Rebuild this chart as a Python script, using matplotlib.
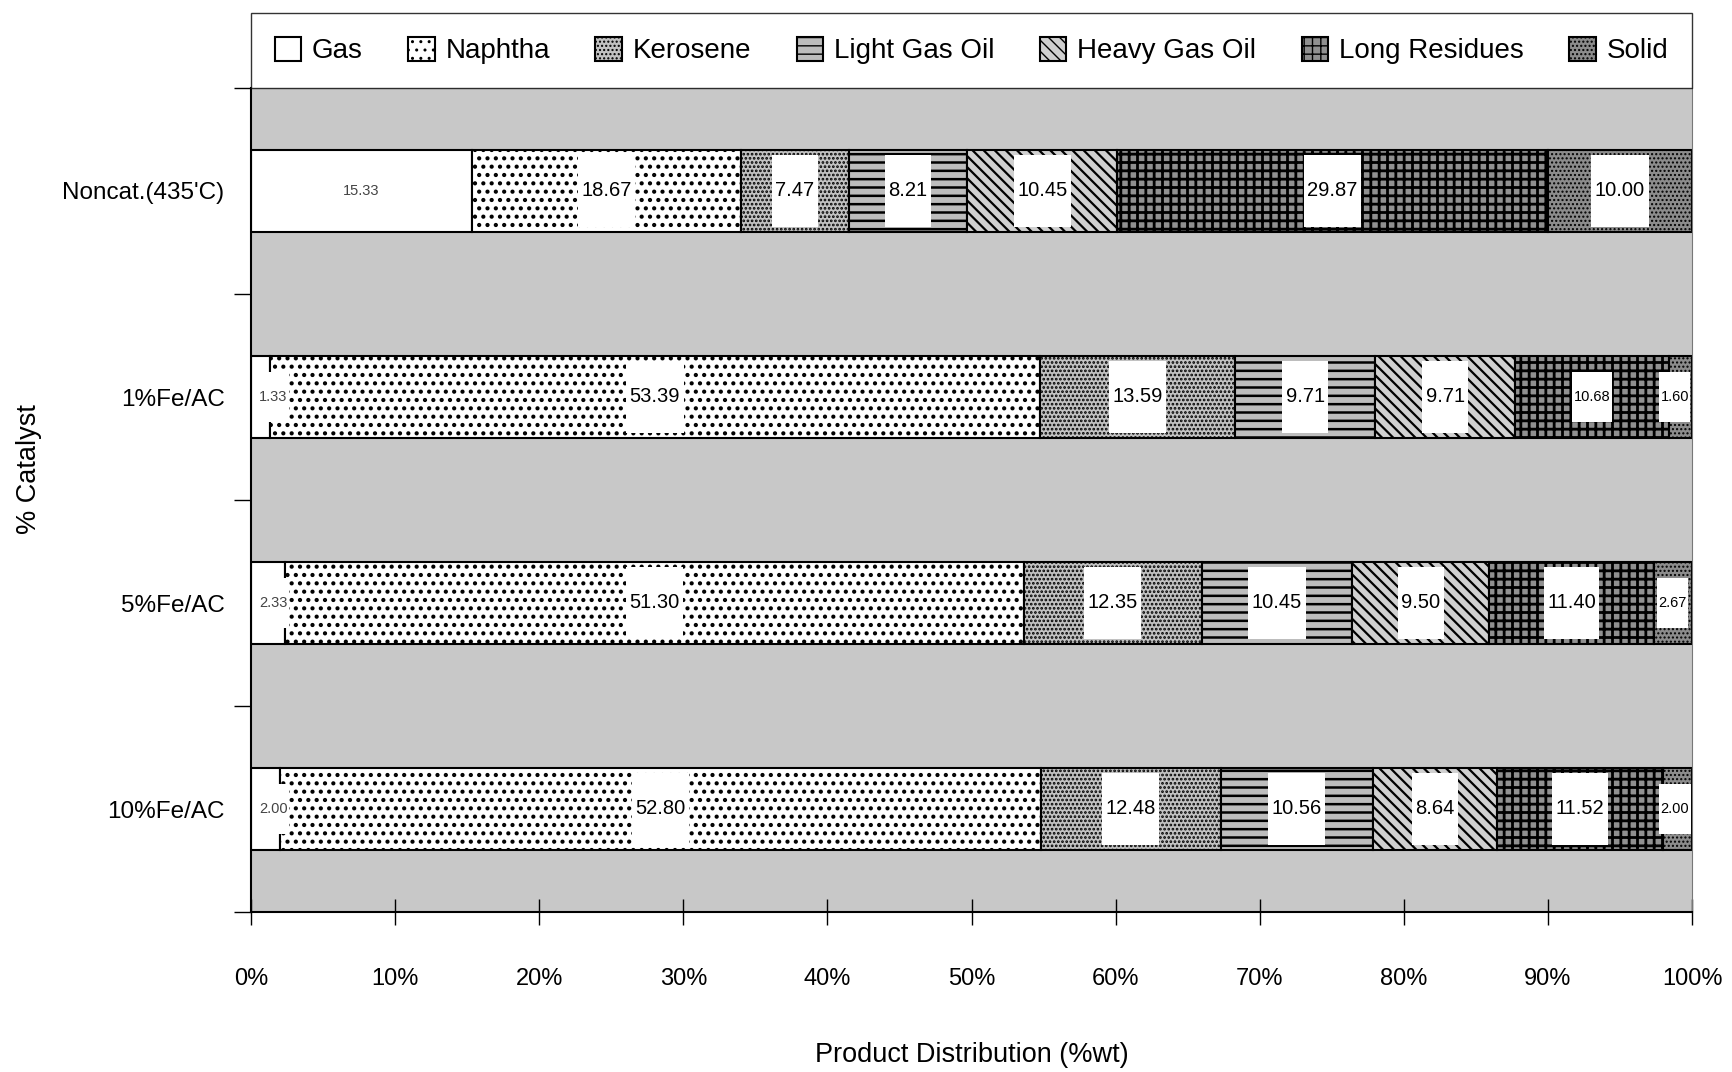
import matplotlib
matplotlib.use("Agg")
import matplotlib.pyplot as plt
from matplotlib.path import Path
import numpy as np

# ---- data ----
catalysts = ["Noncat.(435'C)", "1%Fe/AC", "5%Fe/AC", "10%Fe/AC"]
products = ["Gas", "Naphtha", "Kerosene", "Light Gas Oil", "Heavy Gas Oil", "Long Residues", "Solid"]
gas = [15.33, 1.33, 2.33, 2.00]
naphtha = [18.67, 53.39, 51.30, 52.80]
kerosene = [7.47, 13.59, 12.35, 12.48]
light_gas_oil = [8.21, 9.71, 10.45, 10.56]
heavy_gas_oil = [10.45, 9.71, 9.50, 8.64]
long_residues = [29.87, 10.68, 11.40, 11.52]
solid = [10.00, 1.60, 2.67, 2.00]
x_ticks = [0, 10, 20, 30, 40, 50, 60, 70, 80, 90, 100]
x_tick_labels = [f"{v}%" for v in x_ticks]

series = [gas, naphtha, kerosene, light_gas_oil, heavy_gas_oil, long_residues, solid]

# ---- style ----
plt.rcParams['font.family'] = ['Liberation Sans', 'DejaVu Sans']
styles = [
    dict(facecolor="white", hatch=None, hlw=1.0),
    dict(facecolor="white", hatch="..", hlw=1.8),
    dict(facecolor="#c2c2c2", hatch="....", hlw=1.3),
    dict(facecolor="#bdbdbd", hatch="--", hlw=1.8),
    dict(facecolor="#d0d0d0", hatch="\\\\\\", hlw=1.6),
    dict(facecolor="#909090", hatch="++", hlw=2.0),
    dict(facecolor="#8c8c8c", hatch="....", hlw=1.0),
]
# labels drawn with the small font (row, series index)
small_labels = {(0, 0), (1, 0), (2, 0), (3, 0), (1, 5), (1, 6), (2, 6), (3, 6)}
gray_labels = {(0, 0), (1, 0), (2, 0), (3, 0)}


def make_box(padx, half_h):
    def box(x0, y0, width, height, mutation_size):
        cx = x0 + width / 2.0
        cy = y0 + height / 2.0
        hw = width / 2.0 + padx
        verts = [(cx - hw, cy - half_h), (cx + hw, cy - half_h),
                 (cx + hw, cy + half_h), (cx - hw, cy + half_h),
                 (cx - hw, cy - half_h)]
        return Path(verts, closed=True)
    return box


fig = plt.figure(figsize=(17.32, 10.72), dpi=100)
ax = fig.add_axes([251 / 1732, 1 - 912 / 1072, (1692 - 251) / 1732, (912 - 88) / 1072])
ax.set_facecolor("#c8c8c8")

ypos = np.arange(len(catalysts))
bar_h = 0.40
left = np.zeros(len(catalysts))
for k, (vals, name, st) in enumerate(zip(series, products, styles)):
    bars = ax.barh(ypos, vals, left=left, height=bar_h, color=st["facecolor"],
                   edgecolor="black", linewidth=1.5, hatch=st["hatch"], label=name, zorder=2)
    for p in bars:
        try:
            p.set_hatch_linewidth(st["hlw"])
        except AttributeError:
            pass
    for i, v in enumerate(vals):
        center = left[i] + v / 2.0
        xc = min(max(center, 1.55), 98.8)
        if (i, k) in small_labels:
            fs, box = 10.5, make_box(1.5, 25)
        else:
            fs, box = 14.5, make_box(3.5, 36)
        col = "#444444" if (i, k) in gray_labels else "black"
        ax.text(xc, ypos[i], f"{v:.2f}", ha="center", va="center", fontsize=fs, color=col,
                zorder=4, bbox=dict(boxstyle=box, facecolor="white", edgecolor="none"))
    left += np.array(vals)

ax.set_xlim(0, 100)
ax.set_ylim(len(catalysts) - 0.5, -0.5)
ax.set_xticks(x_ticks)
ax.set_xticklabels(x_tick_labels, fontsize=17)
ax.tick_params(axis="x", direction="inout", length=19, width=1, pad=31)
ax.set_yticks(np.arange(-0.5, len(catalysts), 1.0))
ax.set_yticklabels([])
ax.tick_params(axis="y", which="major", direction="out", length=12, width=1)
ax.set_yticks(ypos, minor=True)
ax.set_yticklabels(catalysts, minor=True, fontsize=17.5)
ax.tick_params(axis="y", which="minor", length=0, pad=19)

for s in ["left", "bottom"]:
    ax.spines[s].set_linewidth(1.5)
    ax.spines[s].set_color("black")
ax.spines["top"].set_visible(False)
ax.spines["right"].set_color("#777777")
ax.spines["right"].set_linewidth(0.8)

ax.set_xlabel("Product Distribution (%wt)", fontsize=19.5)
ax.xaxis.set_label_coords(0.5, -0.158)
ax.set_ylabel("% Catalyst", fontsize=19.5)
ax.yaxis.set_label_coords(-0.154, 0.538)
ax.yaxis.label.set_verticalalignment("center")

leg = ax.legend(loc="lower left", bbox_to_anchor=(0, 1.0, 1, 0.1), mode="expand", ncol=7,
                borderaxespad=0, fontsize=20, frameon=True, fancybox=False,
                handlelength=0.95, handleheight=0.95, handletextpad=0.4,
                borderpad=0.85, columnspacing=1.8)
leg.get_frame().set_edgecolor("black")
leg.get_frame().set_linewidth(1.0)

fig.savefig("out.png", dpi=100)
